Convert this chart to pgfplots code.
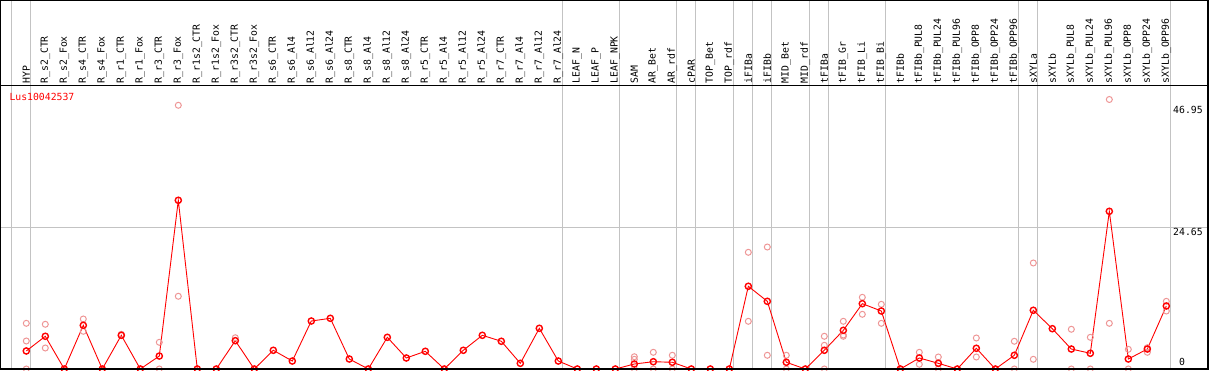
\documentclass[border=0pt]{standalone}
\usepackage{pgfplots}
\pgfplotsset{compat=1.18}
\usepackage{fontspec}
\setmainfont{DejaVu Sans Mono}
\definecolor{faint}{RGB}{238,150,150}
\definecolor{gline}{RGB}{195,195,195}
\begin{document}
\begin{tikzpicture}
\fontsize{9.8}{10}\selectfont
% group separator lines (decoration)
\foreach \i in {0,1,29,32,35,36,38,39,40,42,43,46,53,54,61} {
  \pgfmathsetmacro\xx{26.3+19*(\i-1)+4.4}
  \draw[gline, line width=1pt] (\xx pt,0) -- (\xx pt,369pt);
}
\draw[gline, line width=1pt] (0,141.5pt) -- (1209pt,141.5pt);
\begin{axis}[
  at={(0,0)}, anchor=south west,
  scale only axis, width=1208pt, height=283pt,
  xmin=-0.3842, xmax=63.195, ymin=0, ymax=49.3,
  axis line style={draw=none},
  xtick={1,...,61},
  xticklabels={HYP,R\_s2\_CTR,R\_s2\_Fox,R\_s4\_CTR,R\_s4\_Fox,R\_r1\_CTR,R\_r1\_Fox,R\_r3\_CTR,R\_r3\_Fox,R\_r1s2\_CTR,R\_r1s2\_Fox,R\_r3s2\_CTR,R\_r3s2\_Fox,R\_s6\_CTR,R\_s6\_Al4,R\_s6\_Al12,R\_s6\_Al24,R\_s8\_CTR,R\_s8\_Al4,R\_s8\_Al12,R\_s8\_Al24,R\_r5\_CTR,R\_r5\_Al4,R\_r5\_Al12,R\_r5\_Al24,R\_r7\_CTR,R\_r7\_Al4,R\_r7\_Al12,R\_r7\_Al24,LEAF\_N,LEAF\_P,LEAF\_NPK,SAM,AR\_Bet,AR\_rdf,cPAR,TOP\_Bet,TOP\_rdf,iFIBa,iFIBb,MID\_Bet,MID\_rdf,tFIBa,tFIB\_Gr,tFIB\_Li,tFIB\_Bi,tFIBb,tFIBb\_PUL8,tFIBb\_PUL24,tFIBb\_PUL96,tFIBb\_OPP8,tFIBb\_OPP24,tFIBb\_OPP96,sXYLa,sXYLb,sXYLb\_PUL8,sXYLb\_PUL24,sXYLb\_PUL96,sXYLb\_OPP8,sXYLb\_OPP24,sXYLb\_OPP96},
  xticklabel pos=upper,
  major tick length=0pt,
  ytick=\empty,
  xticklabel style={rotate=90, anchor=west, inner sep=2.5pt, font=\fontsize{9.8}{10}\selectfont},
  clip=false,
]
\addplot[only marks, mark=o, mark size=3pt, color=faint, mark options={line width=1pt}] coordinates {
(1,7.96)(1,4.88)(1,0)
(2,7.79)(2,3.66)
(4,8.71)(4,6.57)
(6,6.05)
(8,4.65)(8,0)
(9,45.94)(9,12.67)
(12,5.45)
(33,2.14)(33,1.69)(33,0)
(34,2.91)(34,0)
(35,2.39)(35,0)
(39,20.33)(39,8.31)
(40,21.25)(40,2.39)
(41,2.39)(41,0)
(43,5.70)(43,4.13)(43,0)
(44,8.31)(44,5.70)(44,5.92)
(45,12.49)(45,9.53)
(46,11.27)(46,7.96)
(48,2.91)(48,0.82)
(49,2.09)(49,0)
(51,5.40)(51,2.09)
(53,4.83)(53,0)
(54,18.47)(54,1.69)
(56,6.92)(56,0)
(57,5.52)(57,0)
(58,46.95)(58,7.96)
(59,3.43)(59,0)
(60,3.71)(60,2.91)
(61,11.79)(61,10.10)
};
\addplot[red, line width=0.9pt, mark=o, mark size=3.1pt, mark options={line width=1.4pt}] coordinates {
(1,3.14)(2,5.70)(3,0)(4,7.61)(5,0)(6,5.87)(7,0)(8,2.26)(9,29.39)(10,0)
(11,0)(12,4.93)(13,0)(14,3.26)(15,1.39)(16,8.36)(17,8.83)(18,1.74)(19,0)(20,5.52)
(21,1.92)(22,3.08)(23,0)(24,3.26)(25,5.87)(26,4.83)(27,0.99)(28,7.09)(29,1.39)(30,0)
(31,0)(32,0)(33,0.87)(34,1.27)(35,1.17)(36,0)(37,0)(38,0)(39,14.41)(40,11.79)
(41,1.17)(42,0)(43,3.26)(44,6.74)(45,11.38)(46,10.10)(47,0)(48,1.92)(49,0.99)(50,0)
(51,3.61)(52,0)(53,2.39)(54,10.23)(55,7.02)(56,3.48)(57,2.74)(58,27.47)(59,1.74)(60,3.48)
(61,10.98)
};
\end{axis}
% frame lines
\draw[black, line width=1.5pt] (0,0) -- (1209pt,0);
\draw[black, line width=1pt] (0,283pt) -- (1209pt,283pt);
\draw[black, line width=1pt] (0.5pt,0) -- (0.5pt,369pt);
\draw[black, line width=1pt] (0,368.5pt) -- (1209pt,368.5pt);
\draw[black, line width=1.5pt] (1208pt,0) -- (1208pt,369pt);
\node[red, anchor=west, inner sep=0pt] at (9.3pt,272pt) {Lus10042537};
\node[anchor=west, inner sep=0pt] at (1173pt,259pt) {46.95};
\node[anchor=west, inner sep=0pt] at (1173pt,137pt) {24.65};
\node[anchor=west, inner sep=0pt] at (1179pt,7pt) {0};
\pgfresetboundingbox
\path[use as bounding box] (0,-1pt) rectangle (1209pt,369pt);
\end{tikzpicture}
\end{document}
